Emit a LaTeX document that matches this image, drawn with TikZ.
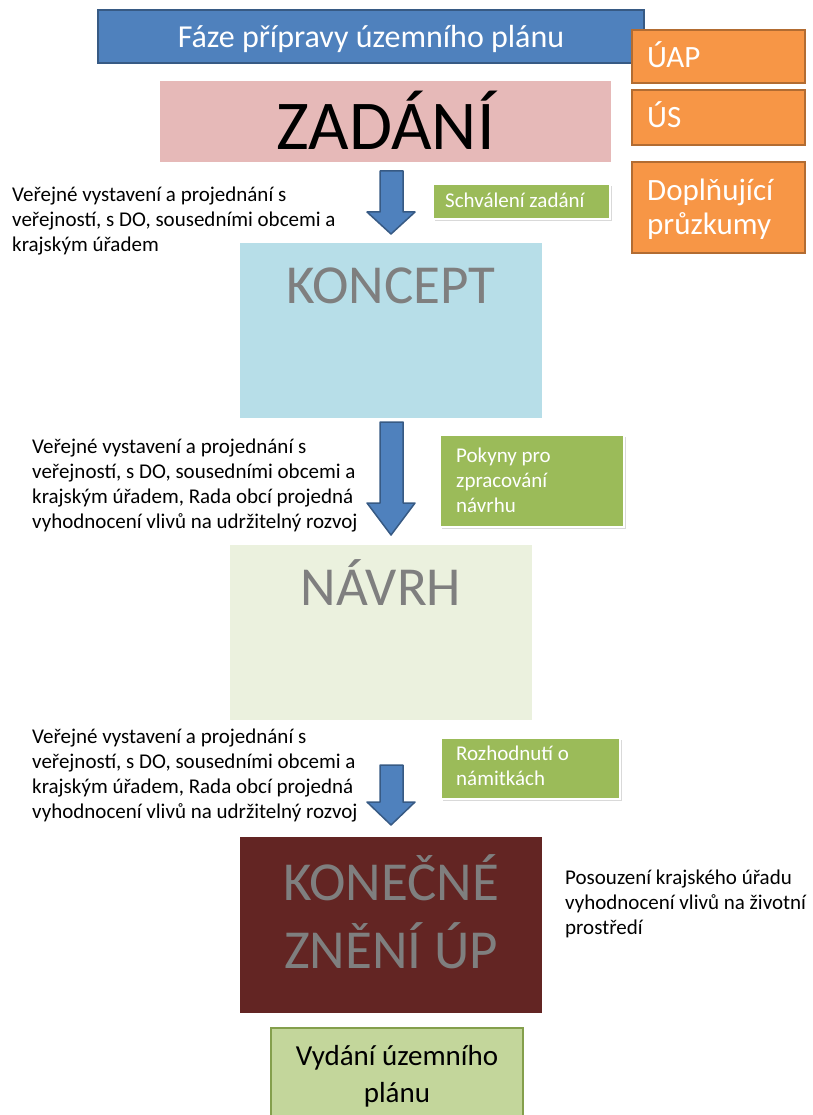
\documentclass[tikz,border=0pt]{standalone}
\usepackage{fontspec}
\setmainfont{Carlito}
\usetikzlibrary{positioning,shadows}
\definecolor{fazeblue}{HTML}{4F81BD}
\definecolor{sideorange}{HTML}{F79646}
\definecolor{zadanipink}{HTML}{E6B9B8}
\definecolor{konceptblue}{HTML}{B7DEE8}
\definecolor{navrhgreen}{HTML}{EBF1DE}
\definecolor{konecnered}{HTML}{632523}
\definecolor{vydanigreen}{HTML}{C3D69B}
\definecolor{taggreen}{HTML}{9BBB59}
\definecolor{stagegray}{HTML}{7F7F7F}

\begin{document}
\begin{tikzpicture}[x=1pt, y=-1pt,
  box/.style={anchor=north west, inner sep=0pt, outer sep=0pt},
  fazebox/.style={box, fill=fazeblue, draw=fazeblue!70!black, line width=2pt},
  sidebox/.style={box, fill=sideorange, draw=sideorange!72!black, line width=2.5pt},
  tagbox/.style={box, fill=taggreen, draw=white, line width=2.5pt,
    drop shadow={shadow xshift=1.5pt, shadow yshift=-2pt, opacity=.3}},
  stagename/.style={anchor=base, text=stagegray, font=\fontsize{55}{68}\selectfont},
  sidename/.style={anchor=base west, inner sep=0pt, text=white, font=\fontsize{31}{34}\selectfont},
  note/.style={anchor=north west, inner sep=0pt, align=left, font=\fontsize{21}{25}\selectfont},
  blockarrow/.style={fill=fazeblue, draw=fazeblue!70!black, line width=1.5pt, line join=round}]

\useasboundingbox (0,0) rectangle (812,1115);

% hlavicka
\node[fazebox, minimum width=546pt, minimum height=53pt] (faze) at (98,10) {};
\node[anchor=base, text=white, font=\fontsize{32}{35}\selectfont] (fazetext)
  at ([yshift=-38pt]faze.north) {Fáze přípravy územního plánu};

% podklady vpravo
\node[sidebox, minimum width=173pt, minimum height=53pt] (uap) at (632,30) {};
\node[sidebox, minimum width=173pt, minimum height=55pt] (us) at (632,90) {};
\node[sidebox, minimum width=173pt, minimum height=91pt] (pruzkumy) at (632,162) {};
\node[sidename] (uaptext) at ([xshift=15pt, yshift=-38pt]uap.north west) {ÚAP};
\node[sidename] (ustext) at ([xshift=15pt, yshift=-38pt]us.north west) {ÚS};
\node[sidename, anchor=north west, align=left] (pruzkumytext)
  at ([xshift=15pt, yshift=-14.2pt]pruzkumy.north west) {\strut Doplňující\\průzkumy};

% faze
\node[box, fill=zadanipink, minimum width=451pt, minimum height=81pt] (zadani) at (160,81) {};
\node[stagename, text=black, font=\fontsize{70}{84}\selectfont] (zadanitext)
  at ([yshift=-69pt]zadani.north) {ZADÁNÍ};
\node[box, fill=konceptblue, minimum width=302pt, minimum height=175pt] (koncept) at (240,243) {};
\node[stagename] (koncepttext) at ([yshift=-60pt]koncept.north) {KONCEPT};
\node[box, fill=navrhgreen, minimum width=302pt, minimum height=175pt] (navrh) at (230,545) {};
\node[stagename] (navrhtext) at ([yshift=-60pt]navrh.north) {NÁVRH};
\node[box, fill=konecnered, minimum width=302pt, minimum height=176pt] (konecne) at (240,837) {};
\node[stagename, anchor=north, align=center] (konecnetext)
  at ([yshift=-12.4pt]konecne.north) {\strut KONEČNÉ\\ZNĚNÍ ÚP};
\node[box, fill=vydanigreen, draw=taggreen!85!black, line width=1.5pt,
  minimum width=252pt, minimum height=92pt] (vydani) at (271,1028) {};
\node[anchor=north, align=center, inner sep=0pt, font=\fontsize{29}{37}\selectfont] (vydanitext)
  at ([yshift=-11.1pt]vydani.north) {\strut Vydání územního\\plánu};

% sipky
\foreach \top/\neck/\tip in {171/212/234, 422/503/535, 765/802/825}
  \draw[blockarrow] (380,\top) -- (403,\top) -- (403,\neck) -- (415,\neck)
    -- (391,\tip) -- (367,\neck) -- (380,\neck) -- cycle;

% rozhodnuti
\node[tagbox, minimum width=177pt, minimum height=35pt] (schvaleni) at (433,184) {};
\node[note, anchor=base west, text=white] (schvalenitext)
  at ([xshift=12pt, yshift=-24pt]schvaleni.north west) {Schválení zadání};
\node[tagbox, minimum width=184pt, minimum height=92pt] (pokyny) at (440,435) {};
\node[note, text=white] (pokynytext)
  at ([xshift=16pt, yshift=-9.5pt]pokyny.north west) {\strut Pokyny pro\\zpracování\\návrhu};
\node[tagbox, minimum width=179pt, minimum height=61pt] (namitky) at (441,738) {};
\node[note, text=white] (namitkytext)
  at ([xshift=15pt, yshift=-4.5pt]namitky.north west) {\strut Rozhodnutí o\\námitkách};

% projednani
\node[note] (projednani1) at (12,183.5)
  {\strut Veřejné vystavení a projednání s\\veřejností, s DO, sousedními obcemi a\\krajským úřadem};
\node[note] (projednani2) at (32,435.5)
  {\strut Veřejné vystavení a projednání s\\veřejností, s DO, sousedními obcemi a\\krajským úřadem, Rada obcí projedná\\vyhodnocení vlivů na udržitelný rozvoj};
\node[note] (projednani3) at (32,725.5)
  {\strut Veřejné vystavení a projednání s\\veřejností, s DO, sousedními obcemi a\\krajským úřadem, Rada obcí projedná\\vyhodnocení vlivů na udržitelný rozvoj};
\node[note] (posouzeni) at (565,866.5)
  {\strut Posouzení krajského úřadu\\vyhodnocení vlivů na životní\\prostředí};
\end{tikzpicture}
\end{document}
